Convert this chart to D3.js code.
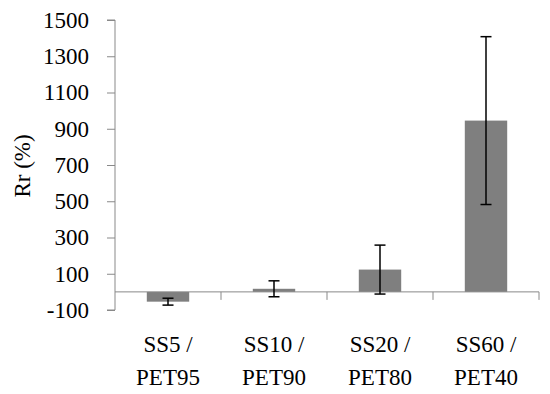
<!DOCTYPE html>
<html><head><meta charset="utf-8">
<script src="https://cdn.jsdelivr.net/npm/d3@7"></script>
<style>body{margin:0;background:#fff}svg{display:block}text{font-family:"Liberation Serif",serif;fill:#000}</style>
</head><body>
<svg id="c" width="550" height="394"></svg>
<script>
const line1 = ["SS5 /", "SS10 /", "SS20 /", "SS60 /"];
const line2 = ["PET95", "PET90", "PET80", "PET40"];
const categories = ["SS5 / PET95", "SS10 / PET90", "SS20 / PET80", "SS60 / PET40"];
const values = [-54, 17, 123, 945];
const errors = [19, 44, 135, 463];
const yTicks = [-100, 100, 300, 500, 700, 900, 1100, 1300, 1500];

const svg = d3.select("#c");
const mLeft = 115, mRight = 539, mTop = 20, mBottom = 310;
const x = d3.scaleBand().domain(categories).range([mLeft, mRight]).paddingInner(0.6).paddingOuter(0.3);
const xb = d3.scaleBand().domain(categories).range([mLeft, mRight]);
const y = d3.scaleLinear().domain([-100, 1500]).range([mBottom, mTop]);
const axisColor = "#898989";
const fs = 23;

// y axis
const ya = svg.append("g").attr("transform", `translate(${mLeft},0)`)
  .call(d3.axisLeft(y).tickValues(yTicks).tickSize(8).tickPadding(18).tickFormat(d => String(d)));
ya.select(".domain").attr("stroke", axisColor).attr("d", `M-8,${y(1500)}H0V${y(-100)}H-8`);
ya.selectAll(".tick line").attr("stroke", axisColor);
ya.selectAll(".tick text").attr("font-size", fs).attr("font-family", "Liberation Serif");

// bars
svg.selectAll("rect.bar").data(values).join("rect").attr("class", "bar")
  .attr("x", (d, i) => x(categories[i]))
  .attr("width", x.bandwidth())
  .attr("y", d => y(Math.max(0, d)))
  .attr("height", d => Math.abs(y(d) - y(0)))
  .attr("fill", "#7f7f7f");

// x axis at zero
const xa = svg.append("g");
xa.append("line").attr("x1", mLeft).attr("x2", mRight).attr("y1", y(0)).attr("y2", y(0)).attr("stroke", axisColor).attr("stroke-width", 1);
categories.forEach((c, i) => {
  const bx = xb(c) + xb.bandwidth();
  xa.append("line").attr("x1", bx).attr("x2", bx).attr("y1", y(0)).attr("y2", y(0) + 8).attr("stroke", axisColor);
});

// error bars
const eg = svg.append("g").attr("stroke", "#000").attr("stroke-width", 1.5);
values.forEach((v, i) => {
  const cx = x(categories[i]) + x.bandwidth() / 2;
  const hi = y(v + errors[i]), lo = y(v - errors[i]);
  eg.append("line").attr("x1", cx).attr("x2", cx).attr("y1", hi).attr("y2", lo);
  eg.append("line").attr("x1", cx - 5.5).attr("x2", cx + 5.5).attr("y1", hi).attr("y2", hi);
  eg.append("line").attr("x1", cx - 5.5).attr("x2", cx + 5.5).attr("y1", lo).attr("y2", lo);
});

// category labels
categories.forEach((c, i) => {
  const cx = xb(c) + xb.bandwidth() / 2;
  const t = svg.append("text").attr("text-anchor", "middle").attr("font-size", fs);
  t.append("tspan").attr("x", cx).attr("y", 352).text(line1[i]);
  t.append("tspan").attr("x", cx).attr("y", 385).text(line2[i]);
});

// y title
svg.append("text").attr("transform", "translate(30,166) rotate(-90)").attr("text-anchor", "middle")
  .attr("font-size", fs).text("Rr (%)");
</script>
</body></html>
